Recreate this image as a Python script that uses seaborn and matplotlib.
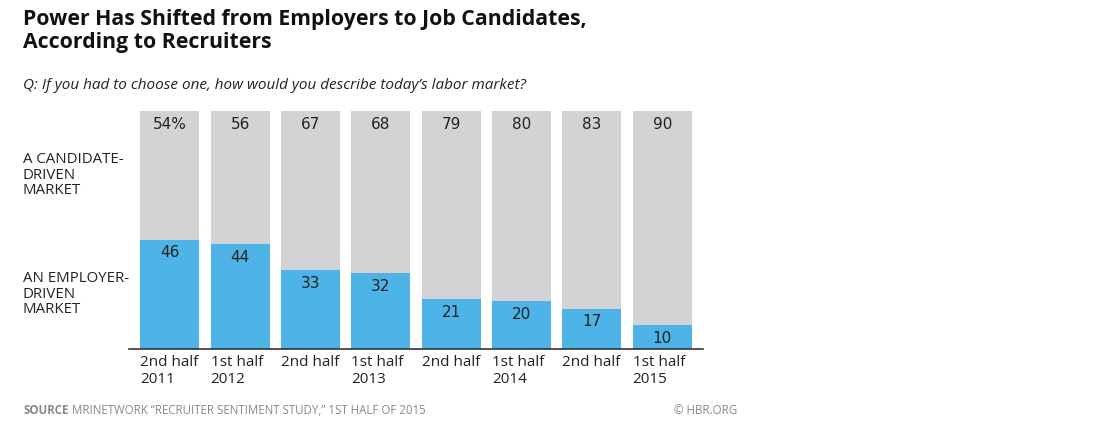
import numpy as np
import pandas as pd
import matplotlib.pyplot as plt
import seaborn as sns

# data
periods = ['2nd half\n2011', '1st half\n2012', '2nd half\n2012', '1st half\n2013',
           '2nd half\n2013', '1st half\n2014', '2nd half\n2014', '1st half\n2015']
tick_labels = ['2nd half\n2011', '1st half\n2012', '2nd half', '1st half\n2013',
               '2nd half', '1st half\n2014', '2nd half', '1st half\n2015']
candidate = [54, 56, 67, 68, 79, 80, 83, 90]
employer = [46, 44, 33, 32, 21, 20, 17, 10]

gray = '#d1d3d4'
blue = '#4eb3e6'
dark = '#222222'

df = pd.DataFrame({'period': periods, 'candidate': candidate, 'employer': employer})
df['total'] = df['candidate'] + df['employer']

sns.set_theme(style='white')
plt.rcParams['font.family'] = ['Open Sans', 'DejaVu Sans']

fig = plt.figure(figsize=(11, 4.25), dpi=100)
ax = fig.add_axes([129 / 1100, 1 - 349 / 425, (703 - 129) / 1100, (349 - 111) / 425])

# gray bar = whole 100%, blue bar drawn over it for the employer share
sns.barplot(data=df, x='period', y='total', color=gray, width=0.84,
            saturation=1, ax=ax, order=periods, linewidth=0, edgecolor='none')
sns.barplot(data=df, x='period', y='employer', color=blue, width=0.84,
            saturation=1, ax=ax, order=periods, linewidth=0, edgecolor='none')

ax.set_xlim(-0.58, 7.58)
ax.set_ylim(0, 100)
for s in ['top', 'right', 'left']:
    ax.spines[s].set_visible(False)
ax.spines['bottom'].set_color('#333333')
ax.spines['bottom'].set_linewidth(1.2)
ax.set_xlabel('')
ax.set_ylabel('')
ax.set_yticks([])
ax.set_xticks([])

# value labels
for i, (c, e) in enumerate(zip(candidate, employer)):
    ctxt = f'{c}%' if i == 0 else f'{c}'
    ax.text(i, 100 - 2.5, ctxt, ha='center', va='top', fontsize=11,
            color=dark, fontfamily='DejaVu Sans')
    ax.text(i, e - 2.5, f'{e}', ha='center', va='top', fontsize=11,
            color=dark, fontfamily='DejaVu Sans')
    ax.text(i - 0.42, -2.5, tick_labels[i], ha='left', va='top', fontsize=11,
            color=dark, linespacing=1.15)

# row labels on the left
fig.text(23 / 1100, 1 - 152 / 425, 'A CANDIDATE-\nDRIVEN\nMARKET', ha='left', va='top',
         fontsize=10.8, color=dark, linespacing=1.05)
fig.text(23 / 1100, 1 - 271 / 425, 'AN EMPLOYER-\nDRIVEN\nMARKET', ha='left', va='top',
         fontsize=10.8, color=dark, linespacing=1.05)

# title and subtitle
fig.text(23 / 1100, 1 - 9 / 425, 'Power Has Shifted from Employers to Job Candidates,\nAccording to Recruiters',
         ha='left', va='top', fontsize=15.3, fontweight='bold', color='#111111', linespacing=1.12)
fig.text(23 / 1100, 1 - 78 / 425, 'Q: If you had to choose one, how would you describe today\u2019s labor market?',
         ha='left', va='top', fontsize=11, style='italic', color=dark)

# source line
fig.text(23 / 1100, 1 - 410 / 425, 'SOURCE', ha='left', va='center', fontsize=8.3,
         fontweight='bold', color='#888888')
fig.text(72 / 1100, 1 - 410 / 425, 'MRINETWORK \u201cRECRUITER SENTIMENT STUDY,\u201d 1ST HALF OF 2015',
         ha='left', va='center', fontsize=8.3, color='#888888')
fig.text(737 / 1100, 1 - 410 / 425, '\u00a9 HBR.ORG', ha='right', va='center', fontsize=8.3,
         color='#888888')

fig.savefig('out.png', dpi=100)
